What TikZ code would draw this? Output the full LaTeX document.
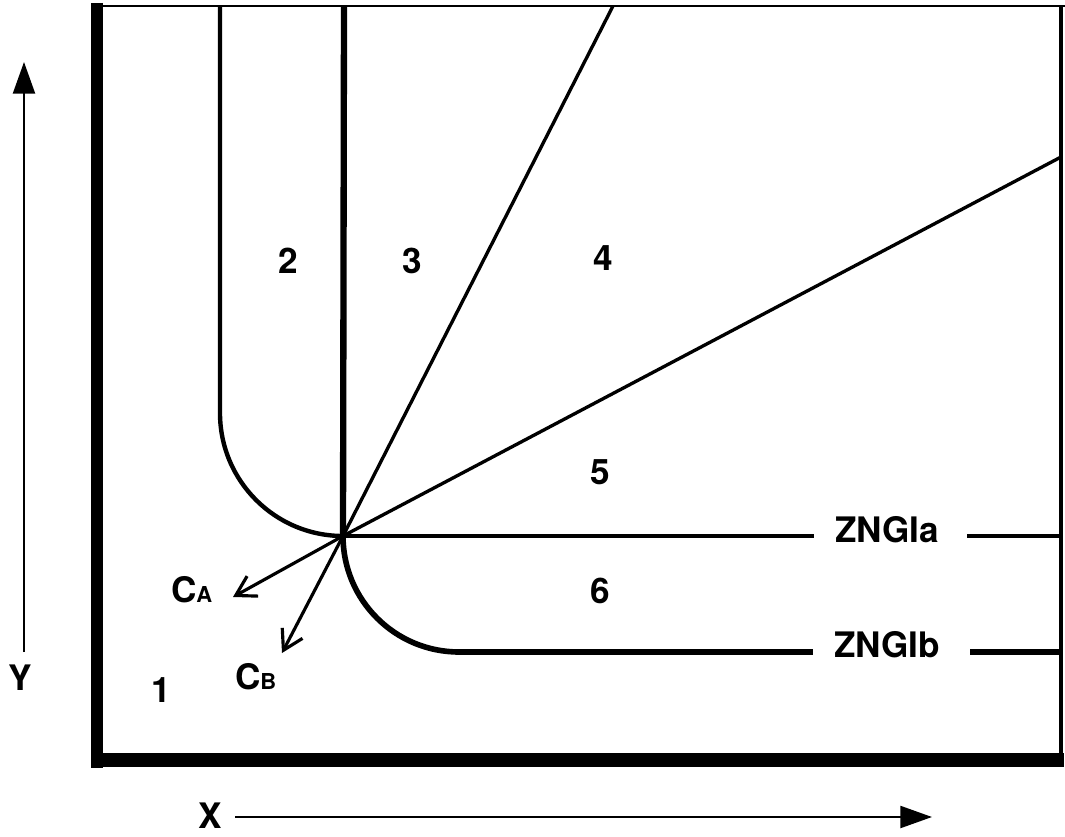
\documentclass[tikz,border=0pt]{standalone}
\usepackage{fontspec}
\setmainfont{TeX Gyre Heros}
\usepackage{tikz}
\usetikzlibrary{arrows.meta,calc}

\begin{document}
\begin{tikzpicture}[x=0.02cm,y=0.02cm,>=Stealth,line join=round,
    lbl/.style={font=\bfseries\fontsize{20}{24}\selectfont,inner sep=0pt},
    axis/.style={line width=1.3pt,-{Triangle[length=18pt,width=12.5pt]}},
    vec/.style={line width=1.8pt,-{Straight Barb[length=11pt,width=13pt,line width=1.8pt]}}]
  \useasboundingbox (0,0) rectangle (1065,836);
  \coordinate (J) at (343.000,300.000);
  \coordinate (VA) at (220.000,830.000);
  \coordinate (VB) at (344.000,830.000);
  \coordinate (D1) at (613.000,830.000);
  \coordinate (D2) at (1061.000,679.000);
  \coordinate (RA) at (1061.000,300.000);
  \coordinate (RB) at (1061.000,184.000);
  \coordinate (LB) at (459.000,184.000);
  \coordinate (CAT) at (233.000,239.000);
  \coordinate (CBT) at (282.000,183.000);
  \coordinate (XS) at (235.000,19.000);
  \coordinate (XE) at (932.000,19.000);
  \coordinate (YS) at (24.000,184.000);
  \coordinate (YE) at (24.000,774.000);
  % frame
  \draw[line width=6.8pt] (97,833) -- (97,68);
  \draw[line width=8pt] (91,76) -- (1064,76);
  \draw[line width=1.6pt] (91,830) -- (1065,830);
  \draw[line width=2.2pt] (1061,830) -- (1061,76);
  % region borders
  \draw[line width=2.5pt] (VA) -- (220,423) arc[start angle=180,end angle=270,radius=123];
  \draw[line width=3.6pt] (VB) -- (J);
  \draw[line width=1.9pt] (J) -- (D1);
  \draw[line width=1.9pt] (J) -- (D2);
  \draw[line width=3.2pt] (J) arc[start angle=180,end angle=270,radius=116];
  % labels
  \node[lbl] (la) at (887.000,306.000) {ZNGIa};
  \node[lbl] (lb) at (887.000,191.000) {ZNGIb};
  \draw[line width=1.9pt] (J) -- ([xshift=-12pt]la.west |- J);
  \draw[line width=1.9pt] ([xshift=16pt]la.east |- J) -- (RA);
  \draw[line width=3.2pt] (LB) -- ([xshift=-12pt]lb.west |- LB);
  \draw[line width=3.2pt] ([xshift=17pt]lb.east |- LB) -- (RB);
  % vectors
  \draw[vec] (J) -- (CAT);
  \draw[vec] (J) -- (CBT);
  \node[lbl] (ca) at (192.000,246.000) {C\hbox{\fontsize{12.5}{14}\selectfont\kern-0.5pt A}};
  \node[lbl] (cb) at (256.000,159.000) {C\hbox{\fontsize{12.5}{14}\selectfont\kern-0.5pt B}};
  \node[lbl] (r1) at (161.000,146.000) {1};
  \node[lbl] (r2) at (288.000,575.000) {2};
  \node[lbl] (r3) at (412.000,575.000) {3};
  \node[lbl] (r4) at (603.000,578.000) {4};
  \node[lbl] (r5) at (600.000,364.000) {5};
  \node[lbl] (r6) at (600.000,245.000) {6};
  % axes
  \node[lbl] (xl) at (210.000,20.000) {X};
  \node[lbl] (yl) at (20.000,158.000) {Y};
  \draw[axis] (XS) -- (XE);
  \draw[axis] (YS) -- (YE);
\end{tikzpicture}
\end{document}
